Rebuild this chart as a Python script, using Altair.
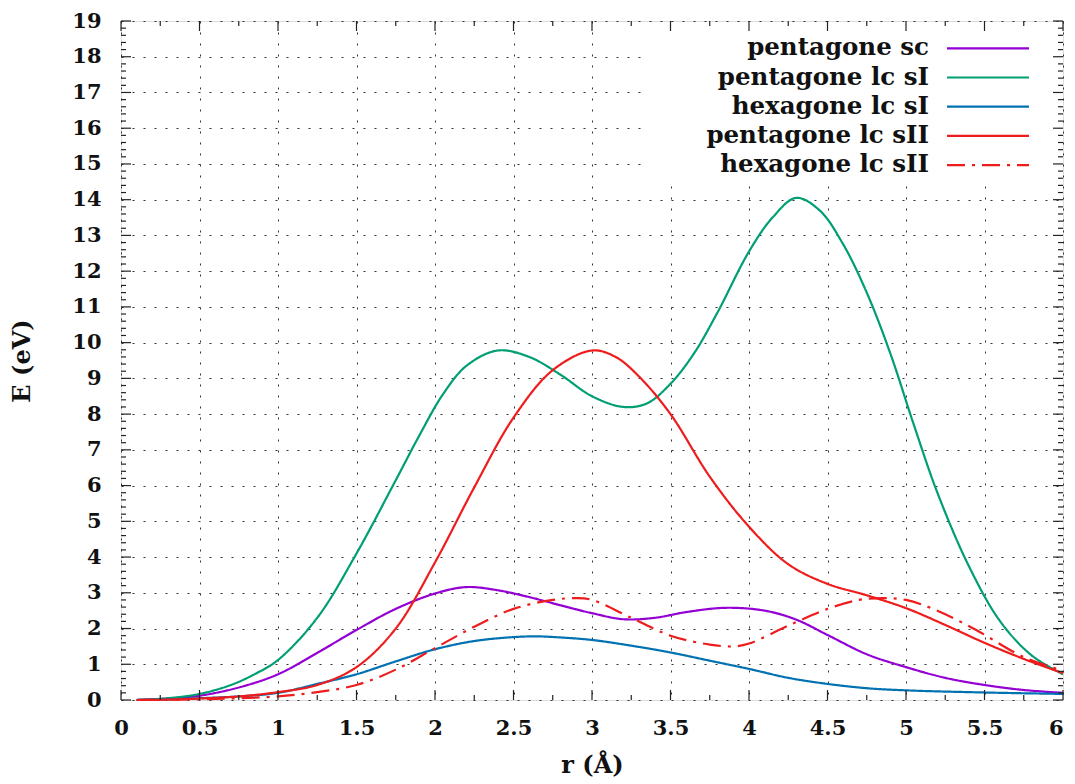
import altair as alt
import pandas as pd

# ---------------- data ----------------
names = ["pentagone sc", "pentagone lc sI", "hexagone lc sI", "pentagone lc sII", "hexagone lc sII"]
colors = ["#9400d3", "#009e73", "#0072b2", "#ee1c1c", "#ee1c1c"]
dashes = [[1, 0], [1, 0], [1, 0], [1, 0], [18, 7, 3, 7]]

r_pent_sc = [0.1, 0.3, 0.5, 0.75, 1.0, 1.25, 1.5, 1.75, 2.0, 2.2, 2.4, 2.6, 2.8, 3.0, 3.2, 3.4, 3.6,
             3.85, 4.1, 4.3, 4.5, 4.75, 5.0, 5.25, 5.5, 5.75, 6.0]
e_pent_sc = [0.0, 0.04, 0.12, 0.35, 0.72, 1.32, 1.96, 2.55, 2.98, 3.16, 3.07, 2.88, 2.65, 2.43, 2.26, 2.3, 2.46,
             2.58, 2.5, 2.25, 1.82, 1.28, 0.92, 0.62, 0.42, 0.28, 0.2]

r_pent_lc_sI = [0.1, 0.3, 0.5, 0.7, 0.85, 1.0, 1.25, 1.5, 1.75, 1.9, 2.05, 2.2, 2.4, 2.6, 2.8, 3.0, 3.2, 3.35,
                3.5, 3.65, 3.8, 4.0, 4.15, 4.3, 4.45, 4.6, 4.75, 4.9, 5.05, 5.2, 5.4, 5.6, 5.8, 6.0]
e_pent_lc_sI = [0.0, 0.05, 0.17, 0.42, 0.72, 1.12, 2.3, 4.1, 6.15, 7.4, 8.55, 9.35, 9.78, 9.6, 9.1, 8.5, 8.2, 8.3,
                8.85, 9.7, 10.85, 12.55, 13.5, 14.05, 13.7, 12.75, 11.4, 9.7, 7.7, 5.8, 3.75, 2.2, 1.25, 0.72]

r_hex_lc_sI = [0.1, 0.3, 0.5, 0.75, 1.0, 1.25, 1.5, 1.75, 2.0, 2.25, 2.5, 2.65, 2.8, 3.0, 3.25, 3.5, 3.75,
               4.0, 4.25, 4.5, 4.75, 5.0, 5.5, 6.0]
e_hex_lc_sI = [0.0, 0.02, 0.05, 0.1, 0.2, 0.45, 0.72, 1.08, 1.42, 1.65, 1.76, 1.78, 1.75, 1.68, 1.52, 1.33, 1.1,
               0.87, 0.62, 0.45, 0.33, 0.27, 0.21, 0.17]

r_pent_lc_sII = [0.1, 0.3, 0.5, 0.75, 1.0, 1.25, 1.5, 1.75, 2.0, 2.25, 2.5, 2.75, 3.0, 3.15, 3.3, 3.5, 3.75, 4.0,
                 4.25, 4.5, 4.75, 5.0, 5.25, 5.5, 5.75, 6.0]
e_pent_lc_sII = [0.0, 0.01, 0.04, 0.1, 0.22, 0.42, 0.92, 2.0, 3.85, 5.95, 7.9, 9.23, 9.78, 9.6, 9.05, 8.0, 6.25, 4.85,
                 3.8, 3.25, 2.93, 2.57, 2.1, 1.6, 1.15, 0.75]

r_hex_lc_sII = [0.1, 0.5, 0.75, 1.0, 1.25, 1.5, 1.75, 2.0, 2.25, 2.5, 2.75, 2.9, 3.0, 3.25, 3.5, 3.75, 3.9,
                4.0, 4.25, 4.5, 4.7, 4.85, 5.0, 5.2, 5.45, 5.75, 6.0]
e_hex_lc_sII = [0.0, 0.02, 0.05, 0.1, 0.22, 0.42, 0.85, 1.45, 2.05, 2.55, 2.8, 2.85, 2.8, 2.3, 1.8, 1.55, 1.5,
                1.58, 2.08, 2.55, 2.8, 2.85, 2.8, 2.5, 1.95, 1.2, 0.82]

x_major = [0, 0.5, 1, 1.5, 2, 2.5, 3, 3.5, 4, 4.5, 5, 5.5, 6]
x_minor = [0.25, 0.75, 1.25, 1.75, 2.25, 2.75, 3.25, 3.75, 4.25, 4.75, 5.25, 5.75]
y_major = list(range(0, 20))
y_minor = [round(i * 0.2, 1) for i in range(0, 96) if i % 5 != 0]

# ---------------- build tables ----------------
series_r = [r_pent_sc, r_pent_lc_sI, r_hex_lc_sI, r_pent_lc_sII, r_hex_lc_sII]
series_e = [e_pent_sc, e_pent_lc_sI, e_hex_lc_sI, e_pent_lc_sII, e_hex_lc_sII]
rows = []
for n, rr, ee in zip(names, series_r, series_e):
    for a, b in zip(rr, ee):
        rows.append({"series": n, "r": a, "E": b})
df = pd.DataFrame(rows)

W, H = 942, 679
FONT = "DejaVu Serif"

xscale = alt.Scale(domain=[0, 6], nice=False, zero=False)
yscale = alt.Scale(domain=[0, 19], nice=False)

x_axis = alt.Axis(values=x_major, title="r (Å)", ticks=False, domain=False, format="~g",
                  labelPadding=17, labelFontSize=21,
                  labelAlign={"condition": {"test": "datum.value >= 6", "value": "right"}, "value": "center"},
                  labelFont=FONT, labelFontWeight="bold", labelColor="#111",
                  titleFont=FONT, titleFontWeight="bold", titleFontSize=24, titleColor="#111",
                  titleY=53, titleBaseline="top",
                  grid=True, gridDash=[2, 9], gridColor="#333", gridWidth=1, labelFlush=False)
y_axis = alt.Axis(values=y_major, title="E (eV)", ticks=False, domain=False,
                  labelPadding=20, labelFontSize=21,
                  labelFont=FONT, labelFontWeight="bold", labelColor="#111",
                  titleFont=FONT, titleFontWeight="bold", titleFontSize=24, titleColor="#111",
                  titleX=-99, titleBaseline="middle",
                  grid=True, gridDash=[2, 9], gridColor="#333", gridWidth=1, labelFlush=False)

# legend background (hides grid behind the key, as in the original)
one = pd.DataFrame({"a": [0]})
legend_bg = alt.Chart(one).mark_rect(color="white").encode(
    x=alt.value(524), x2=alt.value(940), y=alt.value(1), y2=alt.value(164))

curves = alt.Chart(df).mark_line(strokeWidth=2.2, interpolate="catmull-rom").encode(
    x=alt.X("r:Q", scale=xscale, axis=x_axis),
    y=alt.Y("E:Q", scale=yscale, axis=y_axis),
    color=alt.Color("series:N", scale=alt.Scale(domain=names, range=colors), legend=None),
    strokeDash=alt.StrokeDash("series:N", scale=alt.Scale(domain=names, range=dashes), legend=None),
    order=alt.Order("r:Q"),
)

def tick_layer(vals, axis, side, length):
    d = pd.DataFrame({"r": vals, "E": vals})
    c = alt.Chart(d).mark_rule(color="#222", strokeWidth=1.2)
    if axis == "x":
        y0 = H if side == "bottom" else 0
        y1 = H - length if side == "bottom" else length
        return c.encode(x=alt.X("r:Q", scale=xscale, axis=x_axis), y=alt.value(y0), y2=alt.value(y1))
    else:
        x0 = 0 if side == "left" else W
        x1 = length if side == "left" else W - length
        return c.encode(y=alt.Y("E:Q", scale=yscale, axis=y_axis), x=alt.value(x0), x2=alt.value(x1))

ticks = [
    tick_layer(x_major, "x", "bottom", 10), tick_layer(x_major, "x", "top", 10),
    tick_layer(x_minor, "x", "bottom", 5), tick_layer(x_minor, "x", "top", 5),
    tick_layer(y_major, "y", "left", 10), tick_layer(y_major, "y", "right", 10),
    tick_layer(y_minor, "y", "left", 5), tick_layer(y_minor, "y", "right", 5),
]

legend_layers = []
for i, (n, c, d) in enumerate(zip(names, colors, dashes)):
    ly = 27.3 + 29.2 * i
    legend_layers.append(alt.Chart(one).mark_text(
        text=n, align="right", baseline="middle", font=FONT, fontWeight="bold",
        fontSize=24.5, color="#111").encode(x=alt.value(808), y=alt.value(ly)))
    legend_layers.append(alt.Chart(one).mark_rule(strokeWidth=2.2, color=c, strokeDash=d).encode(
        x=alt.value(826), x2=alt.value(908), y=alt.value(ly)))

chart = alt.layer(legend_bg, curves, *ticks, *legend_layers).properties(
    width=W, height=H,
    autosize=alt.AutoSizeParams(type="none"),
    padding={"left": 113, "top": 13, "right": 4, "bottom": 80},
).configure_view(stroke="#222", strokeWidth=1.5).configure(background="white")

chart.save("out.html", embed_options={"renderer": "svg", "actions": False})
